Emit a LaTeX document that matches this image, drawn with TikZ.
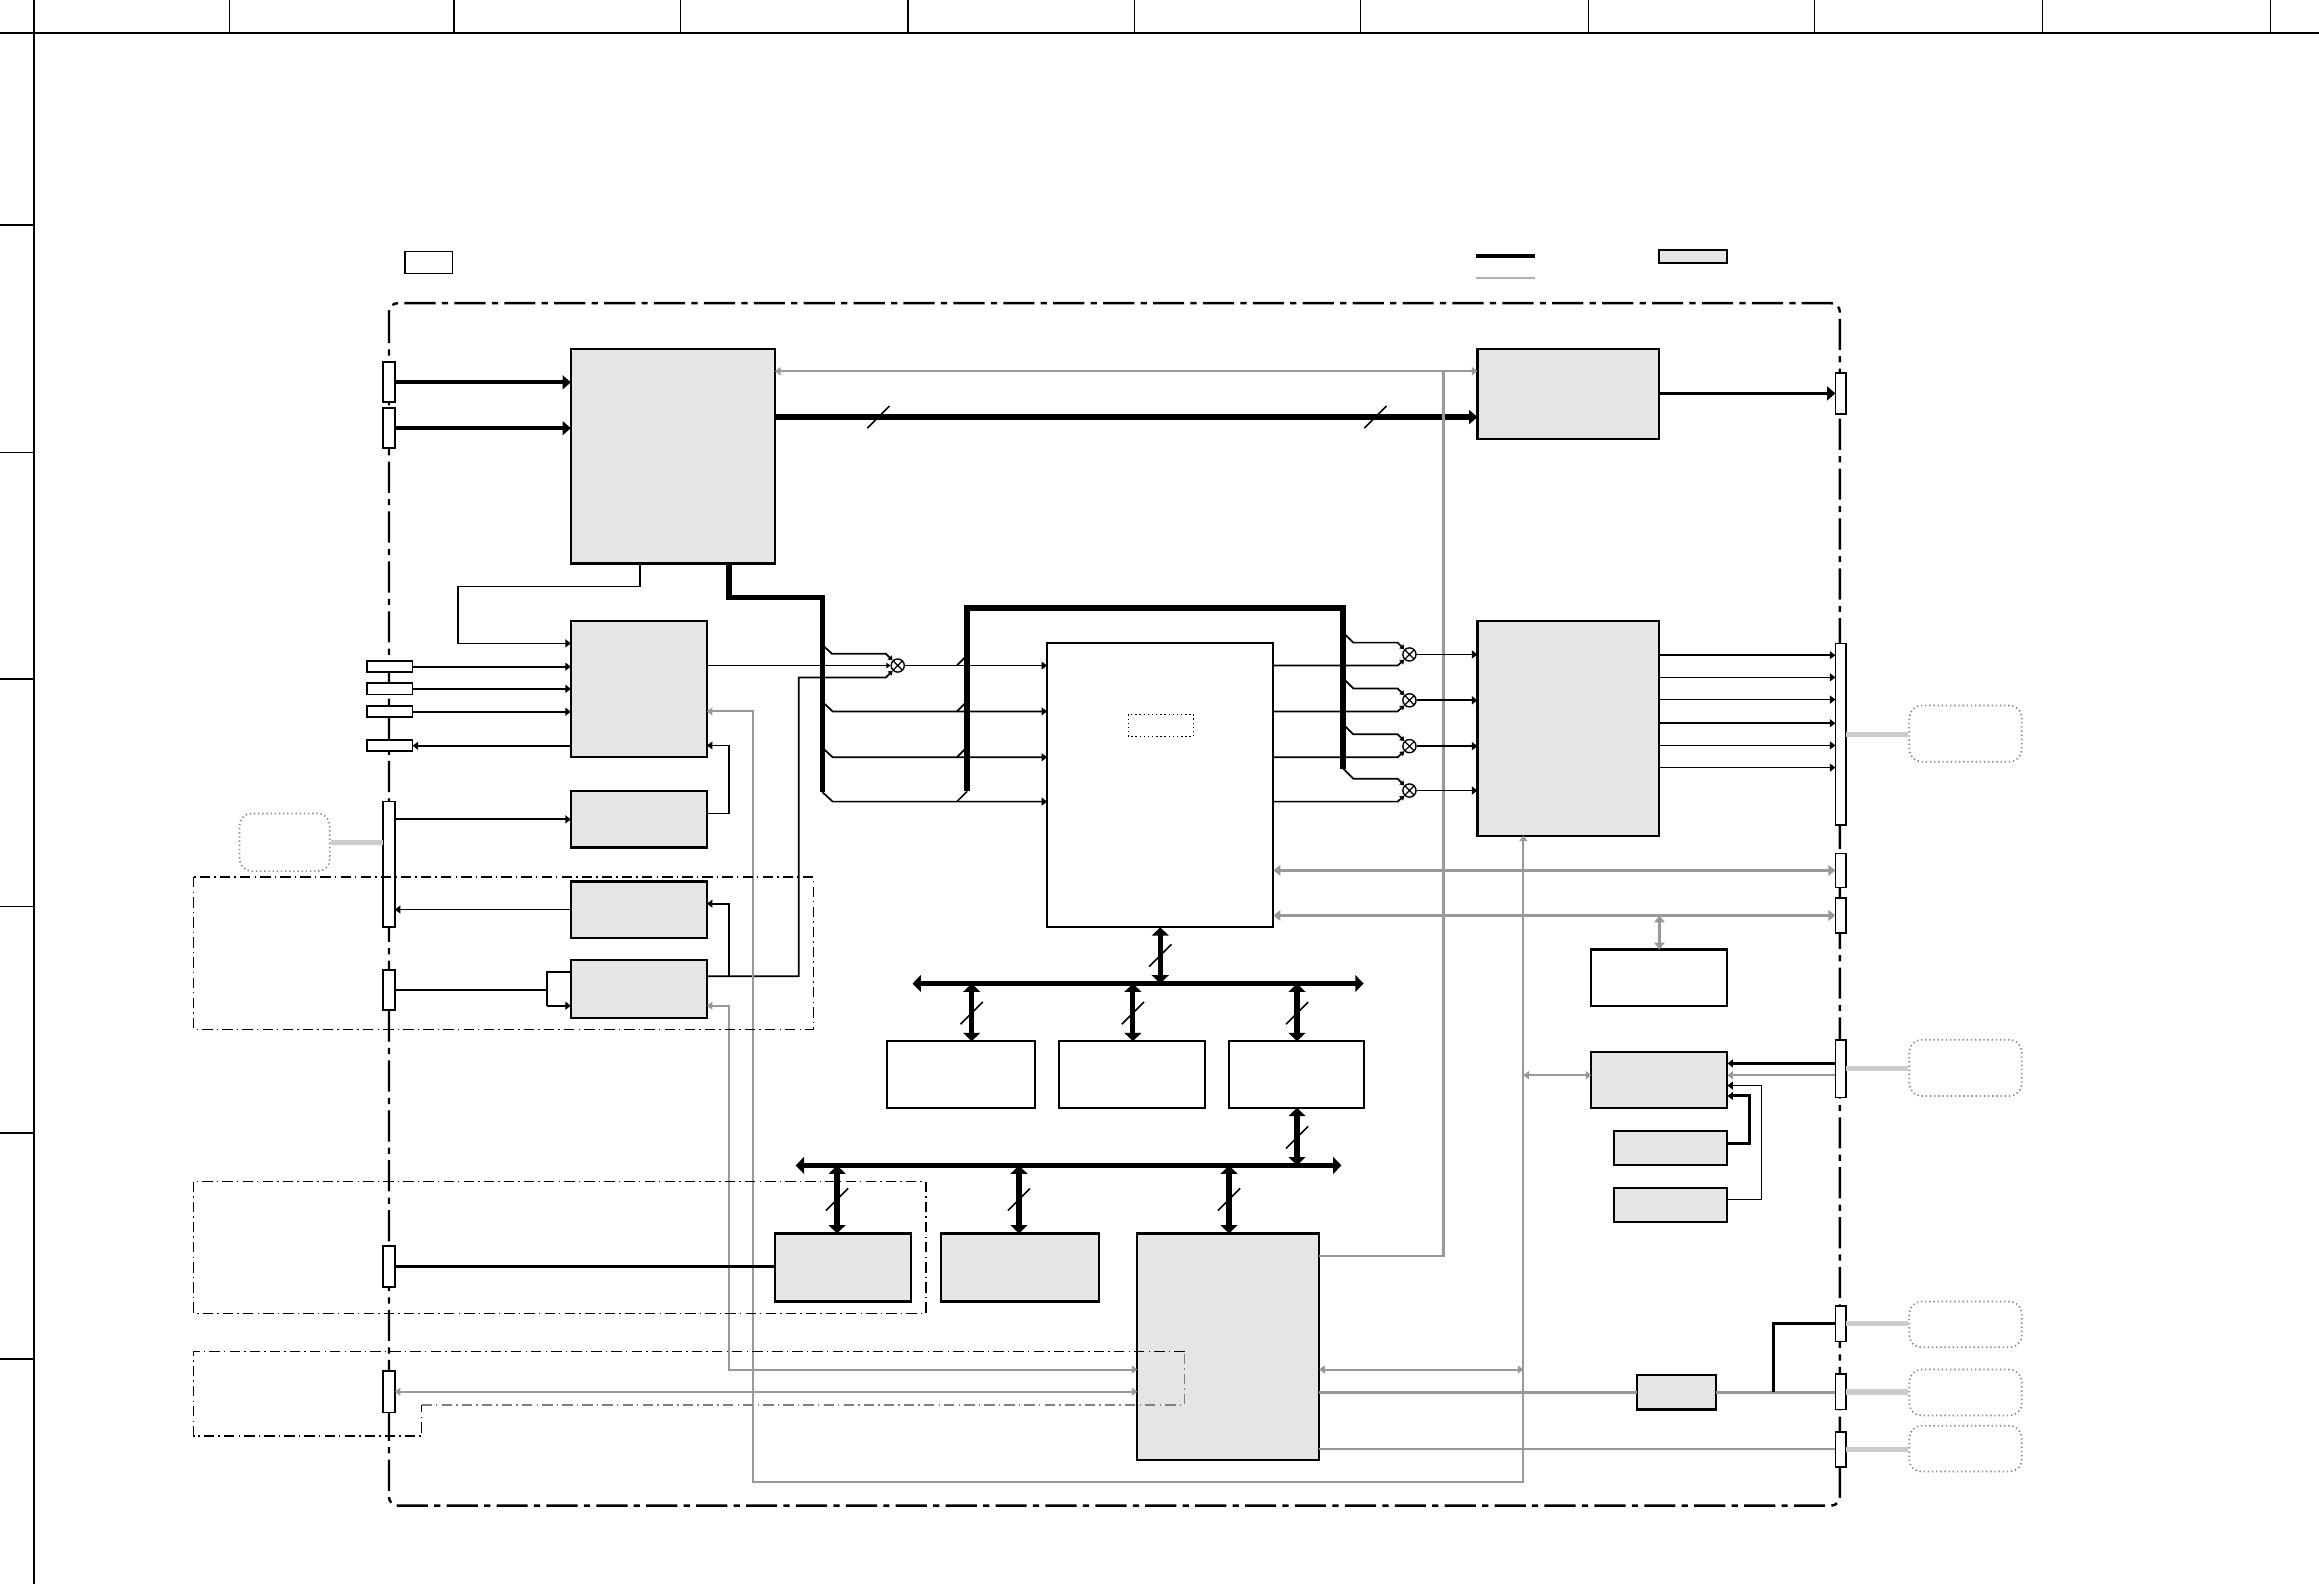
\documentclass[tikz,border=0pt]{standalone}
\usetikzlibrary{arrows.meta,fit}

\tikzset{
  blk/.style={draw,line width=0.6pt,fill=gray!20,inner sep=0pt,outer sep=0pt},
  wblk/.style={blk,fill=white},
  con/.style={draw,line width=0.5pt,fill=white,inner sep=0pt,outer sep=0pt},
  ext/.style={draw=gray!90,line width=0.5pt,dash pattern=on 0.4pt off 0.8pt,rounded corners=3.5pt,inner sep=0pt},
  mix/.style={circle,draw,line width=0.4pt,fill=white,minimum size=3.8pt,inner sep=0pt,
    path picture={\draw[line width=0.35pt] (path picture bounding box.north west) -- (path picture bounding box.south east)
      (path picture bounding box.north east) -- (path picture bounding box.south west);}},
  wire/.style={line width=0.5pt},
  sig/.style={wire,-{Triangle[length=1.6pt,width=2.3pt]}},
  into/.style={wire,-{Triangle[length=1.2pt,width=1.6pt]}},
  fat/.style={line width=1.1pt,-{Triangle[length=2.4pt,width=4pt]}},
  trunk/.style={line width=1.6pt},
  bus/.style={line width=1.5pt,{Triangle[length=2.4pt,width=4.8pt]}-{Triangle[length=2.4pt,width=4.8pt]}},
  gwire/.style={draw=gray!80,line width=0.6pt},
  gsig/.style={gwire,-{Triangle[length=1.6pt,width=2.3pt]}},
  gbi/.style={gwire,{Triangle[length=1.6pt,width=2.3pt]}-{Triangle[length=1.6pt,width=2.3pt]}},
  gfat/.style={draw=gray!80,line width=0.9pt,{Triangle[length=2pt,width=3pt]}-{Triangle[length=2pt,width=3pt]}},
  stub/.style={draw=gray!40,line width=1.6pt},
  zone/.style={draw,line width=0.4pt,dash pattern=on 3pt off 1.2pt on 0.4pt off 1.2pt},
  busmark/.pic={\draw[line width=0.45pt] (-7.5,7.5) -- (7.5,-7.5);},
}

\begin{document}
\begin{tikzpicture}[x=0.15mm,y=-0.15mm]
  \useasboundingbox (0,0) rectangle (1568,1071);
  % sheet frame
  \draw[line width=0.6pt] (0,22) -- (1568,22);
  \draw[line width=0.6pt] (23,0) -- (23,1071);
  \foreach \x in {155,307,460,614,767,920,1074,1227,1381,1535} {
    \draw[line width=0.4pt] (\x,0) -- (\x,22);
  }
  \foreach \y in {152,306,459,613,766,919} {
    \draw[line width=0.4pt] (0,\y) -- (23,\y);
  }
  % legend
  \node[con,fit={(274,170) (306,185)}] (lgbox) {};
  \draw[line width=1pt] (998,173) -- (1038,173);
  \draw[gray!60,line width=0.5pt] (998,188) -- (1038,188);
  \node[blk,fit={(1122,169) (1168,178)}] (lgfill) {};
  % board outline
  \draw[line width=0.7pt,dash pattern=on 9pt off 1.8pt on 1.8pt off 1.8pt,rounded corners=2.5pt] (263,205) rectangle (1244,1018);

  % blocks
  \node[blk,fit={(386,236) (524,381)}] (vproc) {};
  \node[blk,fit={(999,236) (1122,297)}] (vout) {};
  \node[blk,fit={(386,420) (478,512)}] (acodec) {};
  \node[blk,fit={(386,535) (478,573)}] (rxa) {};
  \node[blk,fit={(386,596) (478,634)}] (txa) {};
  \node[blk,fit={(386,649) (478,688)}] (rfm) {};
  \node[wblk,fit={(708,435) (861,627)}] (soc) {};
  \draw[line width=0.4pt,dash pattern=on 0.4pt off 0.8pt] (763,483) rectangle (807,498);
  \node[blk,fit={(999,420) (1122,565)}] (amux) {};
  \node[wblk,fit={(1076,642) (1168,680)}] (rtc) {};
  \node[blk,fit={(1076,711) (1168,749)}] (pmu) {};
  \node[blk,fit={(1091,765) (1168,788)}] (batt) {};
  \node[blk,fit={(1091,803) (1168,826)}] (chg) {};
  \node[wblk,fit={(600,704) (700,749)}] (ddr) {};
  \node[wblk,fit={(716,704) (815,749)}] (nor) {};
  \node[wblk,fit={(831,704) (922,749)}] (emmc) {};
  \node[blk,fit={(524,834) (616,880)}] (eth) {};
  \node[blk,fit={(636,834) (743,880)}] (usb) {};
  \node[blk,fit={(769,834) (892,987)}] (mcu) {};
  \node[blk,fit={(1107,930) (1160,953)}] (ldo) {};

  % connectors on the outline
  \node[con,fit={(259,245) (267,272)}] (jl1) {};
  \node[con,fit={(259,276) (267,303)}] (jl2) {};
  \node[con,fit={(248,447) (279,454.5)}] (jl3) {};
  \node[con,fit={(248,462) (279,469.5)}] (jl4) {};
  \node[con,fit={(248,477.5) (279,485)}] (jl5) {};
  \node[con,fit={(248,500.5) (279,508)}] (jl6) {};
  \node[con,fit={(259,542) (267,627)}] (jl7) {};
  \node[con,fit={(259,656) (267,683)}] (jl8) {};
  \node[con,fit={(259,842.5) (267,870)}] (jl9) {};
  \node[con,fit={(259,927) (267,955)}] (jl10) {};
  \node[con,fit={(1241,252) (1248,280)}] (jr1) {};
  \node[con,fit={(1241,435) (1248,558)}] (jr2) {};
  \node[con,fit={(1241,577) (1248,600)}] (jr3) {};
  \node[con,fit={(1241,607) (1248,631)}] (jr4) {};
  \node[con,fit={(1241,703) (1248,742)}] (jr5) {};
  \node[con,fit={(1241,883) (1248,907)}] (jr6) {};
  \node[con,fit={(1241,929) (1248,953)}] (jr7) {};
  \node[con,fit={(1241,968) (1248,992)}] (jr8) {};

  % outside parts
  \node[ext,fit={(162,550) (223,589)}] (xl) {};
  \node[ext,fit={(1291,477) (1367,515)}] (xr2) {};
  \node[ext,fit={(1291,703) (1367,741)}] (xr5) {};
  \node[ext,fit={(1291,880) (1367,911)}] (xr6) {};
  \node[ext,fit={(1291,926) (1367,957)}] (xr7) {};
  \node[ext,fit={(1291,964) (1367,995)}] (xr8) {};
  \draw[stub] (xl.east) -- (xl.east -| jl7.west);
  \foreach \n in {2,5,6,7,8} {
    \draw[stub] (jr\n.east) -- (jr\n.east -| xr\n.west);
  }

  % video path
  \draw[fat] (jl1.east) -- (jl1.east -| vproc.west);
  \draw[fat] (jl2.east) -- (jl2.east -| vproc.west);
  \draw[trunk,-{Triangle[length=2.4pt,width=4pt]}] (vproc.east |- 0,282) -- (vout.west |- 0,282);
  \pic at (594,282) {busmark};
  \pic at (930,282) {busmark};
  \draw[fat] (vout.east |- jr1.west) -- (jr1.west);
  \draw[gbi] (vproc.east |- 0,251) -- (vout.west |- 0,251);
  \draw[gwire] (976,251) -- (976,849) -- (mcu.east |- 0,849);
  \draw[sig] (432.6,0 |- vproc.south) -- (432.6,396.6) -- (309.5,396.6) |- (acodec.west |- 0,435);

  % audio inputs
  \foreach \n in {3,4,5} {
    \draw[sig] (jl\n.east) -- (jl\n.east -| acodec.west);
  }
  \draw[sig] (acodec.west |- jl6.east) -- (jl6.east);
  \draw[sig] (jl7.east |- rxa.west) -- (rxa.west);
  \draw[sig] (txa.west) -- (txa.west -| jl7.east);
  \draw[wire] (jl8.east) -- (370,0 |- jl8.east);
  \draw[wire] (rfm.west |- 0,657) -- (370,657) -- (370,680);
  \draw[sig] (370,680) -- (rfm.west |- 0,680);
  \draw[sig] (rxa.east |- 0,550) -- (493,550) -- (493,504) -- (acodec.east |- 0,504);
  \draw[sig] (493,660) -- (493,611) -- (txa.east |- 0,611);

  % trunk from the video block, mixers
  \draw[trunk] (493,0 |- vproc.south) -- (493,404) -- (556,404) -- (556,535.5);
  \draw[trunk] (654,535) -- (654,411) -- (908,411) -- (908,520);
  \node[mix] (m0) at (607,450) {};
  \draw[into] (acodec.east |- m0.west) -- (m0.west);
  \draw[into] (556,436) -- (562.5,442) -- (599,442) -- (m0.north west);
  \draw[into] (rfm.east |- 0,660) -- (540,660) -- (540,458) -- (599,458) -- (m0.south west);
  \draw[sig] (m0.east) -- (soc.west |- m0.east);
  \foreach \y in {481,512,542} {
    \draw[sig] (556,\y-6.5) -- (563,\y) -- (soc.west |- 0,\y);
  }
  \foreach \y in {450,481,512,542} {
    \draw[wire] (647,\y) -- (654,\y-7);
  }
  \foreach \i/\y in {1/442.5,2/473.5,3/504.5,4/534.5} {
    \node[mix] (mx\i) at (953,\y) {};
    \draw[into] (908,\y-15) -- (915,\y-8) -- (945,\y-8) -- (mx\i.north west);
    \draw[into] (soc.east |- 0,\y+7.5) -- (945,\y+7.5) -- (mx\i.south west);
    \draw[sig] (mx\i.east) -- (amux.west |- mx\i.east);
  }
  \foreach \y in {443,458,473,489,504,519} {
    \draw[sig] (amux.east |- 0,\y) -- (jr2.west |- 0,\y);
  }

  % grey control lines
  \draw[gbi] (acodec.east |- 0,481) -- (509,481) -- (509,1002) -- (1030,1002) -- (1030,0 |- amux.south);
  \draw[gbi] (1030,727) -- (pmu.west |- 0,727);
  \draw[gbi] (mcu.east |- 0,926) -- (1030,926);
  \draw[gbi] (rfm.east |- 0,680) -- (493,680) -- (493,926) -- (mcu.west |- 0,926);
  \draw[gbi] (jl10.east) -- (jl10.east -| mcu.west);
  \draw[gfat] (soc.east |- jr3.west) -- (jr3.west);
  \draw[gfat] (soc.east |- jr4.west) -- (jr4.west);
  \draw[gfat] (rtc.north |- jr4.west) -- (rtc.north);
  \draw[gwire] (mcu.east |- ldo.west) -- (ldo.west);
  \draw[gwire] (ldo.east) -- (ldo.east -| jr7.west);
  \draw[line width=0.7pt] (1199,0 |- ldo.east) -- (1199,0 |- jr6.west) -- (jr6.west);
  \draw[gwire] (mcu.east |- jr8.west) -- (jr8.west);

  % power
  \draw[sig,line width=0.9pt] (jr5.west |- 0,719) -- (pmu.east |- 0,719);
  \draw[gsig] (jr5.west |- 0,727) -- (pmu.east |- 0,727);
  \draw[sig,line width=0.9pt] (batt.east |- 0,773) -- (1183,773) -- (1183,741) -- (pmu.east |- 0,741);
  \draw[sig] (chg.east |- 0,811) -- (1191,811) -- (1191,734) -- (pmu.east |- 0,734);

  % memory buses
  \draw[bus] (soc.south) -- (soc.south |- 0,665);
  \draw[bus] (617,665) -- (922,665);
  \draw[bus] (657,665) -- (657,0 |- ddr.north);
  \draw[bus] (766,665) -- (766,0 |- nor.north);
  \draw[bus] (877,665) -- (877,0 |- emmc.north);
  \draw[bus] (877,0 |- emmc.south) -- (877,788);
  \draw[bus] (538,788) -- (907,788);
  \draw[bus] (566,788) -- (566,0 |- eth.north);
  \draw[bus] (689,788) -- (689,0 |- usb.north);
  \draw[bus] (831,788) -- (831,0 |- mcu.north);
  \foreach \x/\y in {784.5/646,657/685,766/685,877/685,877/769,566/811,689/811,831/811} {
    \pic at (\x,\y) {busmark};
  }
  \draw[line width=0.7pt] (jl9.east) -- (jl9.east -| eth.west);

  % board zones
  \draw[zone] (131,593) rectangle (550,696);
  \draw[zone] (131,799) rectangle (626,888);
  \draw[zone] (801,914) -- (131,914) -- (131,971) -- (285,971) -- (285,950);
  \draw[zone,gray] (285,950) -- (801,950) -- (801,914);
\end{tikzpicture}
\end{document}
